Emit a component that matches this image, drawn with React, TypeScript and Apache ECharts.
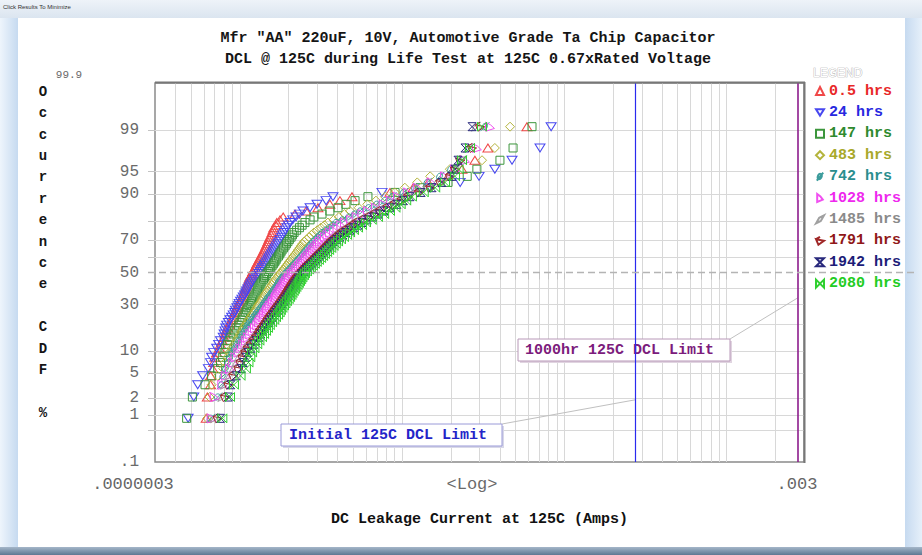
import React, { useEffect, useRef } from "react";
import * as echarts from "echarts";

// ---------- data (leakage current in microamps, sorted per read-point) ----------
const hours = ["0.5 hrs", "24 hrs", "147 hrs", "483 hrs", "742 hrs", "1028 hrs", "1485 hrs", "1791 hrs", "1942 hrs", "2080 hrs"];

const dcl_0_5h = [0.62,0.63,0.66,0.66,0.68,0.69,0.70,0.72,0.75,0.76,0.78,0.80,0.81,0.82,0.84,0.86,0.87,0.89,0.91,0.92,0.93,0.95,0.96,0.97,0.99,1.00,1.02,1.03,1.05,1.06,1.07,1.08,1.09,1.11,1.12,1.13,1.14,1.15,1.17,1.19,1.20,1.22,1.24,1.26,1.27,1.29,1.31,1.33,1.35,1.37,1.39,1.41,1.43,1.45,1.47,1.49,1.51,1.53,1.56,1.58,1.60,1.62,1.67,1.69,1.77,1.85,2.19,2.56,3.03,3.59,4.14,4.91,8.42,11.7,14.5,19.2,23.4,28.1,33.8,58.8];
const dcl_24h = [0.48,0.52,0.55,0.59,0.64,0.66,0.67,0.69,0.72,0.74,0.76,0.79,0.80,0.81,0.82,0.83,0.85,0.87,0.89,0.91,0.93,0.94,0.96,0.98,0.99,1.01,1.03,1.05,1.07,1.09,1.10,1.12,1.14,1.16,1.18,1.21,1.23,1.26,1.28,1.31,1.34,1.36,1.38,1.41,1.43,1.46,1.49,1.51,1.54,1.57,1.60,1.62,1.65,1.68,1.71,1.74,1.77,1.81,1.84,1.87,1.91,1.95,1.99,2.04,2.12,2.22,2.33,2.45,2.71,2.99,3.40,3.75,7.52,14.9,22.8,29.8,37.3,47.6,70.8,82.9];
const dcl_147h = [0.47,0.51,0.61,0.67,0.73,0.76,0.78,0.80,0.82,0.84,0.86,0.88,0.91,0.93,0.95,0.98,1.00,1.02,1.04,1.06,1.08,1.10,1.12,1.14,1.16,1.18,1.20,1.22,1.24,1.26,1.28,1.29,1.31,1.33,1.35,1.37,1.40,1.42,1.45,1.47,1.50,1.53,1.55,1.58,1.61,1.64,1.67,1.69,1.73,1.76,1.79,1.82,1.86,1.90,1.94,1.98,2.02,2.07,2.11,2.16,2.24,2.33,2.42,2.52,2.71,2.86,3.21,3.59,4.03,4.51,5.13,6.16,9.05,12.9,19.2,25.2,28.9,40.1,48.3,63.2];
const dcl_483h = [0.63,0.65,0.67,0.73,0.79,0.81,0.84,0.86,0.89,0.92,0.95,0.98,1.00,1.03,1.05,1.08,1.10,1.13,1.16,1.19,1.22,1.24,1.27,1.29,1.32,1.35,1.37,1.39,1.42,1.45,1.48,1.51,1.54,1.57,1.60,1.62,1.66,1.70,1.73,1.77,1.81,1.85,1.89,1.93,1.97,2.01,2.05,2.10,2.14,2.19,2.24,2.28,2.33,2.38,2.43,2.49,2.58,2.67,2.76,2.86,3.00,3.15,3.32,3.49,3.78,4.08,4.42,4.78,5.40,6.10,6.90,7.85,9.00,10.4,12.4,14.9,19.7,31.1,37.3,46.3];
const dcl_742h = [0.66,0.73,0.77,0.79,0.82,0.85,0.87,0.90,0.93,0.96,0.99,1.02,1.04,1.07,1.10,1.12,1.15,1.18,1.21,1.24,1.27,1.30,1.34,1.37,1.40,1.43,1.46,1.49,1.53,1.56,1.59,1.62,1.66,1.69,1.72,1.74,1.78,1.82,1.86,1.90,1.95,2.00,2.05,2.10,2.15,2.21,2.26,2.32,2.38,2.44,2.50,2.56,2.62,2.69,2.75,2.82,2.91,3.01,3.11,3.21,3.37,3.54,3.72,3.91,4.28,4.68,5.08,5.50,6.20,6.95,7.80,8.67,10.2,12.0,14.3,17.1,20.0,23.4,26.2,32.4];
const dcl_1028h = [0.67,0.70,0.78,0.82,0.87,0.91,0.94,0.98,1.01,1.05,1.09,1.12,1.16,1.20,1.24,1.28,1.31,1.34,1.38,1.41,1.44,1.47,1.50,1.53,1.57,1.60,1.64,1.67,1.70,1.73,1.76,1.79,1.83,1.86,1.89,1.93,1.97,2.01,2.05,2.10,2.15,2.21,2.26,2.32,2.38,2.44,2.50,2.56,2.62,2.69,2.75,2.82,2.89,2.97,3.04,3.12,3.23,3.35,3.47,3.59,3.80,4.00,4.22,4.45,4.85,5.25,5.70,6.16,6.90,7.70,8.55,9.44,10.9,12.5,15.2,18.4,21.2,24.4,28.9,34.8];
const dcl_1485h = [0.70,0.78,0.81,0.86,0.91,0.95,0.98,1.02,1.06,1.10,1.15,1.19,1.23,1.27,1.31,1.35,1.39,1.42,1.46,1.49,1.53,1.57,1.61,1.65,1.68,1.72,1.76,1.79,1.83,1.86,1.89,1.93,1.96,2.00,2.03,2.07,2.11,2.16,2.20,2.25,2.31,2.37,2.43,2.49,2.55,2.61,2.68,2.75,2.83,2.91,2.99,3.08,3.17,3.26,3.35,3.45,3.57,3.70,3.83,3.97,4.19,4.42,4.66,4.91,5.35,5.80,6.30,6.80,7.55,8.35,9.20,10.1,11.9,13.9,16.3,19.2,21.3,23.4,25.5,28.5];
const dcl_1791h = [0.73,0.81,0.85,0.91,0.98,1.01,1.04,1.08,1.12,1.17,1.21,1.26,1.30,1.33,1.37,1.41,1.45,1.48,1.52,1.56,1.60,1.64,1.68,1.72,1.76,1.80,1.83,1.87,1.91,1.94,1.98,2.01,2.05,2.08,2.12,2.16,2.20,2.25,2.30,2.35,2.41,2.47,2.53,2.59,2.67,2.75,2.83,2.91,2.99,3.08,3.17,3.26,3.35,3.45,3.55,3.65,3.79,3.94,4.10,4.26,4.50,4.75,5.00,5.28,5.75,6.25,6.75,7.31,8.10,8.95,9.90,10.9,12.7,14.9,17.2,19.7,21.2,22.8,27.0,30.2];
const dcl_1942h = [0.76,0.85,0.88,0.95,1.02,1.05,1.09,1.12,1.17,1.22,1.26,1.31,1.35,1.39,1.43,1.47,1.51,1.55,1.59,1.62,1.67,1.71,1.75,1.79,1.83,1.87,1.91,1.95,1.99,2.03,2.06,2.10,2.14,2.17,2.21,2.25,2.29,2.33,2.38,2.42,2.49,2.56,2.63,2.71,2.79,2.87,2.95,3.03,3.12,3.21,3.31,3.40,3.50,3.60,3.70,3.80,3.97,4.14,4.32,4.51,4.78,5.06,5.35,5.66,6.10,6.60,7.15,7.74,8.50,9.30,10.2,11.2,13.1,15.3,17.6,20.3,21.2,22.1,24.4,27.0];
const dcl_2080h = [0.78,0.87,0.92,1.01,1.09,1.13,1.16,1.19,1.23,1.28,1.32,1.37,1.41,1.45,1.49,1.53,1.58,1.63,1.67,1.72,1.76,1.79,1.83,1.87,1.91,1.95,2.00,2.04,2.08,2.11,2.15,2.19,2.23,2.27,2.31,2.35,2.39,2.43,2.48,2.52,2.59,2.67,2.74,2.82,2.90,2.98,3.07,3.17,3.26,3.35,3.45,3.55,3.66,3.78,3.90,4.03,4.20,4.38,4.58,4.78,5.05,5.35,5.66,5.99,6.50,7.10,7.75,8.42,9.10,9.80,10.6,11.5,13.6,16.0,18.4,21.2,22.3,23.4,26.2,31.1];

const seriesData = [dcl_0_5h, dcl_24h, dcl_147h, dcl_483h, dcl_742h, dcl_1028h, dcl_1485h, dcl_1791h, dcl_1942h, dcl_2080h];

// axis ticks / labels
const probLabels = [0.1, 1, 2, 5, 10, 30, 50, 70, 90, 95, 99];
const probGrid = [0.5, 1, 2, 5, 10, 20, 30, 40, 60, 70, 80, 90, 95, 99];
const xMinAmps = 3e-7;
const xMaxAmps = 3e-3;
const xLabelText = [".0000003", ".003"];
const initialLimitAmps = 2.75e-4;
const limit1000Amps = 2.75e-3;

// ---------- styling ----------
const markerColors = ["#f04848", "#4848f0", "#3c963c", "#b4b43c", "#3c9c9c", "#f050f0", "#a0a0a0", "#a02828", "#28287c", "#30d030"];
const legendColors = ["#e82828", "#2828e0", "#2e8a2e", "#a8a82a", "#2a8e8e", "#ee28ee", "#8a8a8a", "#901818", "#1c1c78", "#22cc22"];
const markerShapes = [
  "triangle",
  "path://M0,0L10,0L5,8Z",
  "rect",
  "diamond",
  "path://M1,10L9,0M5,1.5C7.5,1.5 8,4 6.5,6.5C5,9 2,9 2,6.5C2,4 3.5,1.5 5,1.5Z",
  "path://M2,0L2,10L9,7L6,3Z",
  "path://M0,10L4,3L10,0L6,7Z",
  "path://M0,3L10,5L3,10ZM0,3L5,0",
  "path://M0,0L10,0L0,10L10,10Z",
  "path://M0,0L0,10L10,0L10,10Z",
];
const markerSizes: any[] = [[10, 8], [10, 8], 8, 9, 9, 9, 9, 9, 8, 9];

const MONO = "'Liberation Mono', 'DejaVu Sans Mono', monospace";

function normInv(p: number): number {
  const a = [-3.969683028665376e1, 2.209460984245205e2, -2.759285104469687e2, 1.38357751867269e2, -3.066479806614716e1, 2.506628277459239];
  const b = [-5.447609879822406e1, 1.615858368580409e2, -1.556989798598866e2, 6.680131188771972e1, -1.328068155288572e1];
  const c = [-7.784894002430293e-3, -3.223964580411365e-1, -2.400758277161838, -2.549732539343734, 4.374664141464968, 2.938163982698783];
  const d = [7.784695709041462e-3, 3.224671290700398e-1, 2.445134137142996, 3.754408661907416];
  const pl = 0.02425;
  if (p < pl) {
    const q = Math.sqrt(-2 * Math.log(p));
    return (((((c[0] * q + c[1]) * q + c[2]) * q + c[3]) * q + c[4]) * q + c[5]) / ((((d[0] * q + d[1]) * q + d[2]) * q + d[3]) * q + 1);
  }
  if (p <= 1 - pl) {
    const q = p - 0.5;
    const r = q * q;
    return ((((((a[0] * r + a[1]) * r + a[2]) * r + a[3]) * r + a[4]) * r + a[5]) * q) / (((((b[0] * r + b[1]) * r + b[2]) * r + b[3]) * r + b[4]) * r + 1);
  }
  const q = Math.sqrt(-2 * Math.log(1 - p));
  return -(((((c[0] * q + c[1]) * q + c[2]) * q + c[3]) * q + c[4]) * q + c[5]) / ((((d[0] * q + d[1]) * q + d[2]) * q + d[3]) * q + 1);
}

const lx = (amps: number) => Math.log10(amps);
const X_MIN = lx(xMinAmps);
const X_MAX = lx(xMaxAmps);
const Y_MIN = normInv(0.001);
const Y_MAX = -Y_MIN;

const xGridTicks: number[] = [];
for (let e = -7; e <= -3; e++) {
  for (let m = 1; m <= 9; m++) {
    const t = Math.log10(m) + e;
    if (t > X_MIN + 1e-9 && t < X_MAX - 1e-9) xGridTicks.push(t);
  }
}
const yGridTicks = probGrid.map((p) => normInv(p / 100));
const yLabelTicks = probLabels.map((p) => (p === 0.1 ? Y_MIN : normInv(p / 100)));

export default function App() {
  const ref = useRef<HTMLDivElement>(null);

  useEffect(() => {
    const chart = echarts.init(ref.current!, null, { renderer: "svg" });

    const series: any[] = seriesData.map((arr, k) => ({
      type: "scatter",
      name: hours[k],
      symbol: markerShapes[k],
      symbolSize: markerSizes[k],
      silent: true,
      z: 3,
      itemStyle: { color: "rgba(0,0,0,0)", borderColor: markerColors[k], borderWidth: 1, opacity: 1 },
      data: arr.map((v, i) => [lx(v * 1e-6), normInv((i + 1 - 0.3) / (arr.length + 0.4))]),
    }));
    series.push({
      type: "line",
      name: "limits",
      data: [],
      silent: true,
      z: 4,
      markLine: {
        silent: true,
        symbol: ["none", "none"],
        label: { show: false },
        animation: false,
        data: [
          { xAxis: lx(initialLimitAmps), lineStyle: { color: "#2a2aee", width: 1.2, type: "solid" } },
          { xAxis: lx(limit1000Amps), lineStyle: { color: "#8c1c8c", width: 1.6, type: "solid" } },
        ],
      },
    });

    chart.setOption({
      animation: false,
      backgroundColor: "transparent",
      grid: { left: 155, top: 83, width: 649, height: 379, show: true, borderColor: "#8a8a8a", borderWidth: 1.5, backgroundColor: "transparent" },
      xAxis: {
        type: "value",
        min: X_MIN,
        max: X_MAX,
        axisLine: { show: false },
        axisTick: { show: true, customValues: xGridTicks, length: 7, lineStyle: { color: "#c4c4c4" } },
        splitLine: { show: true, lineStyle: { color: "#d8d8d8", width: 1 } },
        axisLabel: {
          customValues: [X_MIN, X_MAX],
          formatter: (v: number) => (Math.abs(v - X_MIN) < 1e-6 ? "{lo|" + xLabelText[0] + "}" : "{hi|" + xLabelText[1] + "}"),
          fontFamily: MONO,
          fontSize: 17,
          color: "#666666",
          margin: 14,
          rich: {
            lo: { fontFamily: MONO, fontSize: 17, color: "#666666", padding: [0, 44, 0, 0] },
            hi: { fontFamily: MONO, fontSize: 17, color: "#666666", padding: [0, 14, 0, 0] },
          },
        },
        name: "DC Leakage Current at 125C (Amps)",
        nameLocation: "middle",
        nameGap: 50,
        nameTextStyle: { fontFamily: MONO, fontWeight: "bold", fontSize: 15, color: "#111111" },
      },
      yAxis: {
        type: "value",
        min: Y_MIN,
        max: Y_MAX,
        axisLine: { show: false },
        axisTick: { show: true, customValues: yGridTicks, length: 7, lineStyle: { color: "#c4c4c4" } },
        splitLine: { show: true, lineStyle: { color: "#d8d8d8", width: 1 } },
        axisLabel: {
          customValues: yLabelTicks,
          formatter: (v: number) => {
            let best = 0;
            let bd = Infinity;
            yLabelTicks.forEach((t, i) => {
              const dd = Math.abs(t - v);
              if (dd < bd) { bd = dd; best = i; }
            });
            const p = probLabels[best];
            return p < 1 ? ".1" : String(p);
          },
          fontFamily: MONO,
          fontSize: 16,
          lineHeight: 13,
          color: "#6a6a6a",
          margin: 16,
        },
      },
      legend: {
        orient: "vertical",
        left: 815,
        top: 83,
        itemWidth: 8,
        itemHeight: 8,
        itemGap: 5.4,
        padding: 0,
        selectedMode: false,
        textStyle: { fontFamily: MONO, fontWeight: "bold", fontSize: 15, lineHeight: 16 },
        data: hours.map((h, k) => ({ name: h, textStyle: { color: legendColors[k] } })),
      },
      series,
    });

    const xInit = chart.convertToPixel({ xAxisIndex: 0 }, lx(initialLimitAmps)) as number;
    const x1000 = chart.convertToPixel({ xAxisIndex: 0 }, lx(limit1000Amps)) as number;
    const y50 = chart.convertToPixel({ yAxisIndex: 0 }, 0) as number;
    const yLeadInit = chart.convertToPixel({ yAxisIndex: 0 }, normInv(0.019)) as number;
    const yLead1000 = chart.convertToPixel({ yAxisIndex: 0 }, normInv(0.34)) as number;

    chart.setOption({
      graphic: {
        elements: [
          { type: "text", left: 3, top: 4, style: { text: "Click Results To Minimize", font: "6px 'Liberation Sans'", fill: "#333" } },
          { type: "text", x: 468, y: 38, style: { text: 'Mfr "AA" 220uF, 10V, Automotive Grade Ta Chip Capacitor', font: `bold 15px ${MONO}`, fill: "#151515", align: "center", verticalAlign: "middle" } },
          { type: "text", x: 468, y: 59, style: { text: "DCL @ 125C during Life Test at 125C 0.67xRated Voltage", font: `bold 15px ${MONO}`, fill: "#151515", align: "center", verticalAlign: "middle" } },
          { type: "text", x: 43, y: 81, style: { text: "O\nc\nc\nu\nr\nr\ne\nn\nc\ne\n \nC\nD\nF\n \n%", font: `bold 14px ${MONO}`, fill: "#151515", align: "center", verticalAlign: "top", lineHeight: 21.4 } },
          { type: "text", x: 69, y: 75, style: { text: "99.9", font: `11px ${MONO}`, fill: "#6a6a6a", align: "center", verticalAlign: "middle" } },
          { type: "text", x: 472, y: 484, style: { text: "<Log>", font: `17px ${MONO}`, fill: "#6a6a6a", align: "center", verticalAlign: "middle" } },
          { type: "text", x: 813, y: 73, style: { text: "LEGEND", font: "12px 'Liberation Sans'", fill: "#ffffff", stroke: "#a8a8a8", lineWidth: 0.7, align: "left", verticalAlign: "middle" } },
          { type: "line", z: 5, shape: { x1: 148, y1: y50, x2: 918, y2: y50 }, style: { stroke: "#b4b4b4", lineWidth: 1.5, lineDash: [7, 4] } },
          { type: "line", z: 1, shape: { x1: 502, y1: 424, x2: xInit, y2: yLeadInit }, style: { stroke: "#c0c0c0", lineWidth: 1 } },
          { type: "line", z: 1, shape: { x1: 730, y1: 339, x2: x1000, y2: yLead1000 }, style: { stroke: "#c0c0c0", lineWidth: 1 } },
          { type: "rect", z: 1, shape: { x: 283, y: 426, width: 221, height: 22 }, style: { fill: "#d8d8e8" } },
          { type: "rect", z: 1, shape: { x: 281, y: 424, width: 221, height: 22 }, style: { fill: "#ffffff", stroke: "#9a9ad8", lineWidth: 1 } },
          { type: "text", z: 1, x: 289, y: 435, style: { text: "Initial 125C DCL Limit", font: `bold 15px ${MONO}`, fill: "#2424c8", align: "left", verticalAlign: "middle" } },
          { type: "rect", z: 1, shape: { x: 520, y: 341, width: 212, height: 22 }, style: { fill: "#e0d4e0" } },
          { type: "rect", z: 1, shape: { x: 518, y: 339, width: 212, height: 22 }, style: { fill: "#ffffff", stroke: "#b898b8", lineWidth: 1 } },
          { type: "text", z: 1, x: 525, y: 350, style: { text: "1000hr 125C DCL Limit", font: `bold 15px ${MONO}`, fill: "#7c1c7c", align: "left", verticalAlign: "middle" } },
          { type: "line", z: 5, shape: { x1: 155, y1: 82.5, x2: 805, y2: 82.5 }, style: { stroke: "#777777", lineWidth: 2 } },
          { type: "line", z: 5, shape: { x1: 804.5, y1: 82, x2: 804.5, y2: 463 }, style: { stroke: "#777777", lineWidth: 2 } },
        ],
      },
    });

    return () => chart.dispose();
  }, []);

  return (
    <div style={{ position: "fixed", left: 0, top: 0, width: 922, height: 555, overflow: "hidden", background: "#d4e4f5" }}>
      <div style={{ position: "absolute", left: 0, top: 0, width: 922, height: 18, background: "linear-gradient(180deg,#eef3f9,#dbe5f0)" }} />
      <div style={{ position: "absolute", left: 0, top: 18, width: 18, height: 537, background: "linear-gradient(90deg,#eef5fc,#c6daf0)" }} />
      <div style={{ position: "absolute", left: 905, top: 18, width: 17, height: 537, background: "linear-gradient(90deg,#c6daf0,#e6f0fa)" }} />
      <div style={{ position: "absolute", left: 18, top: 18, width: 887, height: 529, background: "#ffffff" }} />
      <div style={{ position: "absolute", left: 0, top: 547, width: 922, height: 8, background: "linear-gradient(180deg,#a4b6c9,#5f7892)" }} />
      <div ref={ref} style={{ position: "absolute", left: 0, top: 0, width: 922, height: 555 }} />
    </div>
  );
}
